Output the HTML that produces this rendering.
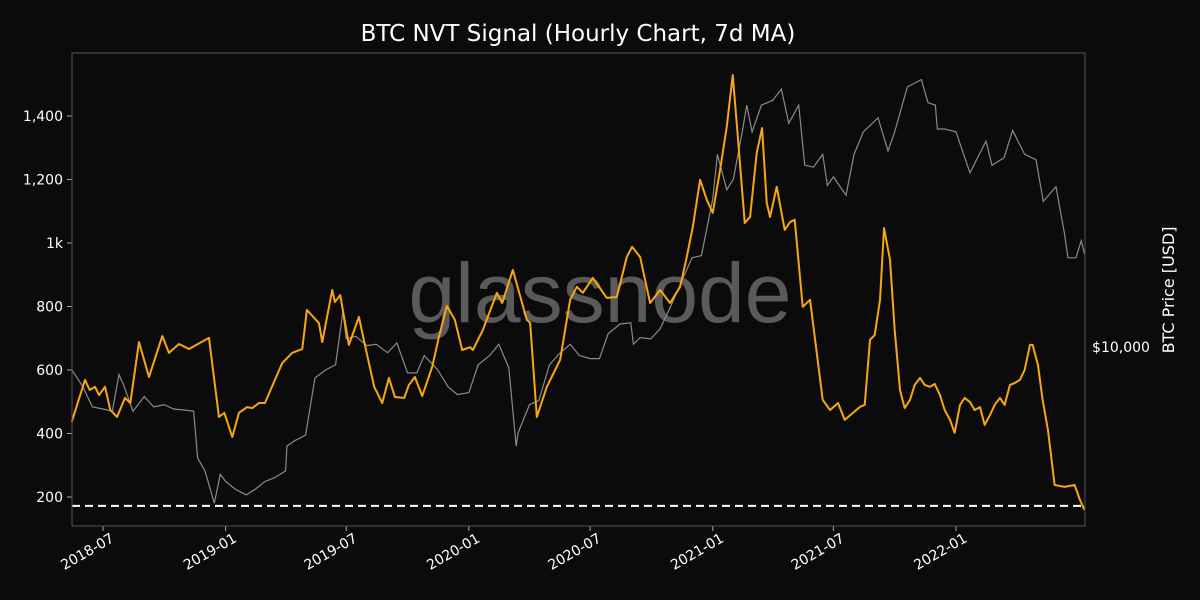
<!DOCTYPE html>
<html><head><meta charset="utf-8"><style>
html,body{margin:0;padding:0;background:#0b0b0b;}
svg{display:block;font-family:"DejaVu Sans","Liberation Sans",sans-serif;}
</style></head><body>
<svg id="chart" width="1200" height="600">
<rect width="1200" height="600" fill="#0b0b0b"/>
<text x="578" y="41" fill="#fff" font-size="23" text-anchor="middle">BTC NVT Signal (Hourly Chart, 7d MA)</text>
<text x="600" y="322" fill="#5a5a5a" font-size="84" text-anchor="middle" font-family="Liberation Sans, sans-serif">glassnode</text>
<g id="plot"></g>
<rect x="72" y="53" width="1013" height="473" fill="none" stroke="#555" stroke-width="1"/>
<text x="1121" y="352" fill="#fff" font-size="14" text-anchor="middle">$10,000</text>
<text transform="translate(1174,290) rotate(-90)" fill="#fff" font-size="16" text-anchor="middle">BTC Price [USD]</text>
</svg>
<script>
// NVT (days since 2018-07-01, value)
const nvtDays=[-47,-27,-20,-12,-6,3,11,21,33,41,54,69,89,99,114,129,134,159,174,182,194,204,216,224,234,243,258,269,284,299,306,324,329,344,348,356,369,384,393,407,419,429,438,452,459,468,479,494,504,516,528,539,551,555,570,591,599,615,636,641,651,666,686,701,711,720,735,756,771,786,794,806,821,836,851,866,876,885,896,906,915,926,936,945,953,963,971,981,989,996,1001,1011,1023,1031,1038,1050,1061,1080,1091,1103,1113,1136,1143,1151,1158,1166,1172,1181,1188,1196,1203,1211,1218,1226,1233,1241,1248,1256,1263,1271,1278,1286,1293,1301,1308,1316,1323,1331,1338,1346,1353,1361,1368,1376,1383,1391,1395,1403,1410,1418,1428,1443,1458,1466,1473];
const nvtValues=[436,569,537,547,521,547,474,452,512,496,688,578,707,654,682,666,672,701,452,465,389,465,483,480,496,496,569,622,654,666,789,748,688,852,814,836,679,767,679,547,496,575,515,512,553,578,518,610,704,802,758,663,672,663,726,843,811,915,758,748,452,547,632,821,862,843,890,827,830,956,988,956,811,852,811,862,956,1050,1199,1136,1095,1230,1366,1529,1325,1063,1082,1284,1362,1126,1082,1177,1041,1066,1073,799,821,506,474,496,443,484,490,695,710,821,1047,947,726,537,480,506,553,575,553,547,556,521,474,443,402,490,512,499,474,483,427,458,490,512,490,553,559,569,600,679,679,616,506,411,238,232,238,191,159];
// BTC price
const priceDays=[-47,-30,-16,0,14,24,31,45,62,76,92,106,123,136,142,153,167,176,184,198,215,229,243,257,274,276,288,304,318,335,349,360,365,379,396,410,427,441,457,471,482,502,518,532,549,563,580,594,609,620,623,640,654,670,684,701,715,731,745,758,776,792,796,806,822,836,854,868,884,898,915,922,936,946,960,966,974,988,1005,1018,1029,1044,1053,1066,1080,1087,1096,1115,1127,1141,1163,1178,1188,1207,1228,1238,1249,1252,1263,1280,1301,1311,1325,1334,1352,1365,1383,1400,1411,1430,1443,1448,1460,1468,1473];
const priceValues=[8500,7500,6500,6400,6300,8200,7600,6300,7000,6500,6600,6400,6350,6300,4500,4100,3250,4000,3800,3600,3450,3600,3800,3900,4100,4900,5100,5300,8000,8500,8800,12900,10600,10800,10100,10200,9600,10300,8300,8300,9400,8500,7500,7100,7200,8800,9400,10200,8600,4900,5400,6600,6800,8800,9500,10200,9400,9200,9200,11000,11800,11900,10200,10700,10600,11400,13700,16000,19000,19300,29000,40000,31000,33500,48000,57000,47000,57000,59000,64000,50000,57000,37000,36500,40000,32000,34000,29800,40000,47000,52000,41000,47000,65000,68500,58000,57000,48000,48000,47000,35000,38500,44000,37000,39000,47500,40000,38500,28500,31700,22500,19000,19000,21500,19500];
const yTicks=[200,400,600,800,1000,1200,1400];
const yTickLabels=["200","400","600","800","1k","1,200","1,400"];
const xTickDays=[0,184,365,549,731,915,1096,1280];
const xTickLabels=["2018-07","2019-01","2019-07","2020-01","2020-07","2021-01","2021-07","2022-01"];
const threshold=172;

const NS="http://www.w3.org/2000/svg";
const g=document.getElementById('plot');
const X=d=>103+d*0.6664;
const Y=v=>497-(v-200)*0.3175;
const YP=p=>347-320*Math.log10(p/10000);
function mk(t,a){const e=document.createElementNS(NS,t);for(const k in a)e.setAttribute(k,a[k]);g.appendChild(e);return e;}

yTicks.forEach((v,i)=>{
  const t=mk('line',{x1:67,x2:72,y1:Y(v),y2:Y(v),stroke:'#aaa'});
  
  
  const l=mk('text',{x:63,y:Y(v)+5,fill:'#fff','font-size':14,'text-anchor':'end'});
  l.textContent=yTickLabels[i];
  
  
});
xTickDays.forEach((d,i)=>{
  const x=X(d);
  const t=mk('line',{x1:x,x2:x,y1:526,y2:531,stroke:'#aaa'});
  
  
  const l=mk('text',{transform:`translate(${x+12},${541}) rotate(-30)`,fill:'#fff','font-size':14,'text-anchor':'end'});
  l.textContent=xTickLabels[i];
  
  
});
const pp=mk('polyline',{points:priceDays.map((d,i)=>X(d)+','+YP(priceValues[i])).join(' '),fill:'none',stroke:'#8a8a8a','stroke-width':1.2});


const np=mk('polyline',{points:nvtDays.map((d,i)=>X(d)+','+Y(nvtValues[i])).join(' '),fill:'none',stroke:'#f7a70f','stroke-width':2,'stroke-linejoin':'round'});


const th=mk('line',{x1:72,x2:1085,y1:Y(threshold),y2:Y(threshold),stroke:'#fff','stroke-width':2,'stroke-dasharray':'8,5'});


</script>
</body></html>
